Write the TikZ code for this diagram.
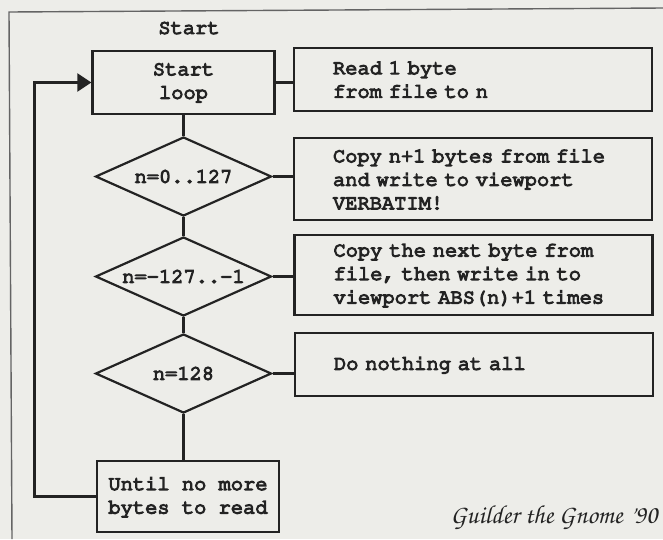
\documentclass[tikz,border=0pt]{standalone}
\usepackage{fontspec}
\usetikzlibrary{shapes.geometric,arrows.meta}
\definecolor{paper}{RGB}{237,237,233}
\definecolor{ink}{RGB}{35,35,35}
\definecolor{framec}{RGB}{100,100,100}
\newcommand{\courfont}{\fontencoding{OT1}\fontfamily{pcr}\fontseries{m}\fontshape{n}\fontsize{20.4}{23.5}\selectfont\special{pdf:code 2 Tr 1.3 w}}
\newcommand{\sigfont}{\fontencoding{OT1}\fontfamily{pzc}\fontseries{mb}\fontshape{it}\fontsize{26}{28}\selectfont}
\tikzset{
  txt/.style={font=\courfont, text=ink},
  pbox/.style={txt, draw=ink, line width=2.2pt, rectangle, inner sep=0pt},
  rbox/.style={pbox, minimum width=358pt, text width=280pt, inner xsep=39pt, inner ysep=0pt, align=left},
  dec/.style={txt, draw=ink, line width=2.2pt, diamond, aspect=2.23, minimum width=176pt, minimum height=79pt, inner sep=0pt},
  conn/.style={draw=ink, line width=2.2pt},
}
\begin{document}
\begin{tikzpicture}[x=1pt,y=-1pt]
\useasboundingbox (0,0) rectangle (663,539);
\fill[paper] (0,0) rectangle (663,539);
\draw[framec, line width=1.4pt] (663,8) -- (9,12) -- (12,539);

\node[txt] (title) at (189,28) {Start};
\node[pbox, minimum width=182pt, minimum height=63pt, align=center] (start) at (183.5,82.5) {Start\\loop};
\node[rbox, minimum height=63pt] (read) at (473,79.5) {Read 1 byte\\from file to n};

\node[dec] (d1) at (183.5,176.5) {n=0..127};
\node[rbox, minimum height=82pt] (b2) at (473,179) {Copy n+1 bytes from file\\and write to viewport\\VERBATIM!};

\node[dec] (d2) at (183.5,276.5) {n=-127..-1};
\node[rbox, minimum height=80pt] (b3) at (473.5,275) {Copy the next byte from\\file, then write in to\\viewport ABS(n)+1 times};

\node[dec] (d3) at (183.5,373.5) {n=128};
\node[rbox, minimum height=63pt] (b4) at (474,364.5) {Do nothing at all};

\node[pbox, minimum width=182pt, minimum height=71pt, align=center] (until) at (188,496.5) {Until no more\\bytes to read};

\node[anchor=east, text=ink, font=\sigfont] (sig) at (661,517) {Guilder the Gnome '90};

\coordinate (lc) at (34.5,0);

\draw[conn] (start) -- (d1);
\draw[conn] (d1) -- (d2);
\draw[conn] (d2) -- (d3);
\draw[conn] (d3.south) -- (d3.south |- until.north);
\draw[conn] (start.east) -- (start.east -| read.west);
\draw[conn] (d1.east) -- (d1.east -| b2.west);
\draw[conn] (d2.east) -- (d2.east -| b3.west);
\draw[conn] (d3.east) -- (d3.east -| b4.west);
\draw[conn, -{Triangle[length=14pt,width=18pt]}] (until.west) -- (until.west -| lc) -- (lc |- start.west) -- (start.west);
\end{tikzpicture}
\end{document}
